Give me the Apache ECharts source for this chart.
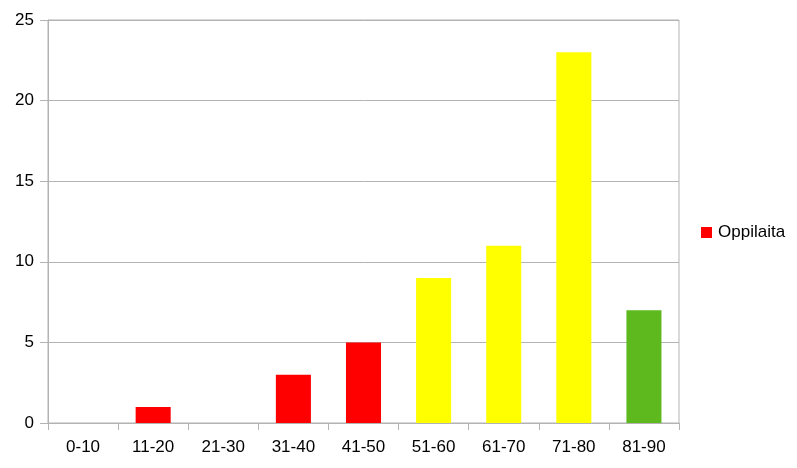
<!DOCTYPE html>
<html><head><meta charset="utf-8">
<script src="https://cdn.jsdelivr.net/npm/echarts@6/dist/echarts.min.js"></script>
<style>html,body{margin:0;padding:0;background:#fff}#c{width:797px;height:468px}</style>
</head><body><div id="c"></div>
<script>
const categories = ['0-10','11-20','21-30','31-40','41-50','51-60','61-70','71-80','81-90'];
const values = [0,1,0,3,5,9,11,23,7];
const barColors = ['#ff0000','#ff0000','#ff0000','#ff0000','#ff0000','#ffff00','#ffff00','#ffff00','#5eb91e'];
const seriesName = 'Oppilaita';

const chart = echarts.init(document.getElementById('c'), null, {renderer:'canvas'});
const font = 'Liberation Sans';
chart.setOption({
  animation:false,
  grid:{left:48,right:118,top:20,bottom:45,show:true,borderColor:'#b3b3b3',borderWidth:1,containLabel:false},
  legend:{orient:'vertical',left:701,top:224,padding:0,icon:'rect',itemWidth:11,itemHeight:11,itemGap:5,
    textStyle:{fontFamily:font,fontSize:17,color:'#000',padding:[0,0,0,1]},data:[seriesName]},
  xAxis:{type:'category',data:categories,
    axisLine:{lineStyle:{color:'#b3b3b3',width:1}},
    axisTick:{show:true,length:7,lineStyle:{color:'#b3b3b3'}},
    axisLabel:{fontFamily:font,fontSize:17,color:'#000',margin:16},
    splitLine:{show:false}},
  yAxis:{type:'value',min:0,max:25,interval:5,
    axisLine:{show:true,lineStyle:{color:'#b3b3b3',width:1}},
    axisTick:{show:true,length:8,lineStyle:{color:'#b3b3b3'}},
    axisLabel:{fontFamily:font,fontSize:17,color:'#000',margin:14},
    splitLine:{show:true,lineStyle:{color:'#b3b3b3',width:1}}},
  series:[{name:seriesName,type:'bar',barWidth:'50%',itemStyle:{color:'#ff0000'},
    data:values.map((v,i)=>({value:v,itemStyle:{color:barColors[i]}}))}]
});
</script></body></html>
